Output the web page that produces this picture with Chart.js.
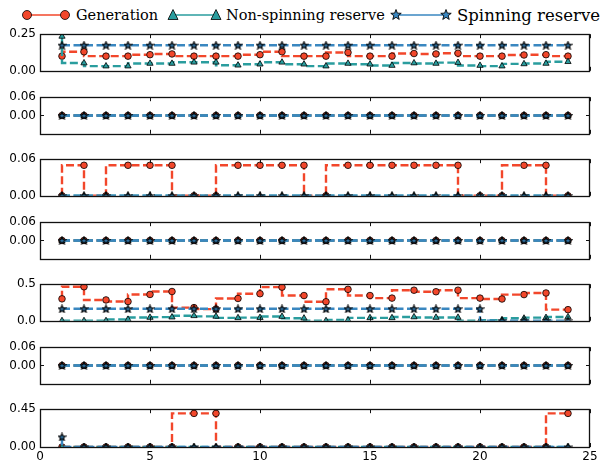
<!DOCTYPE html>
<html><head><meta charset="utf-8">
<script src="https://cdn.jsdelivr.net/npm/chart.js@4.4.0/dist/chart.umd.min.js"></script>
<style>
html,body{margin:0;padding:0;background:#fff;width:604px;height:462px;overflow:hidden;position:relative;}
canvas.sub{position:absolute;left:0;}
#lg{position:absolute;left:0;top:0;}
</style></head><body>
<svg id="lg" width="604" height="30" xmlns="http://www.w3.org/2000/svg">
  <line x1="27" y1="15" x2="65" y2="15" stroke="#f2472b" stroke-width="1.6"/>
  <circle cx="27" cy="15" r="4.5" fill="#f2472b" stroke="#000" stroke-width="0.8"/>
  <circle cx="65" cy="15" r="4.5" fill="#f2472b" stroke="#000" stroke-width="0.8"/>
  <text x="76" y="20" font-family="DejaVu Serif" font-size="14.5" fill="#000">Generation</text>
  <line x1="173" y1="15" x2="216" y2="15" stroke="#2a9d9e" stroke-width="1.6"/>
  <polygon points="173,9.5 168,19.5 178,19.5" fill="#2a9d9e" stroke="#000" stroke-width="0.8"/>
  <polygon points="216,9.5 211,19.5 221,19.5" fill="#2a9d9e" stroke="#000" stroke-width="0.8"/>
  <text x="226" y="20" font-family="DejaVu Serif" font-size="14.5" fill="#000">Non-spinning reserve</text>
  <line x1="396" y1="15" x2="446" y2="15" stroke="#3a87c0" stroke-width="1.6"/>
  <polygon id="st1" fill="#3a87c0" stroke="#000" stroke-width="0.9"/>
  <polygon id="st2" fill="#3a87c0" stroke="#000" stroke-width="0.9"/>
  <text x="457" y="21" font-family="DejaVu Serif" font-size="16.5" fill="#000">Spinning reserve</text>
</svg>
<script>
// ---------------- data ----------------
const hours = [1,2,3,4,5,6,7,8,9,10,11,12,13,14,15,16,17,18,19,20,21,22,23,24];

const gen1  = [0.10,0.13,0.10,0.10,0.11,0.115,0.10,0.10,0.10,0.11,0.13,0.10,0.10,0.125,0.10,0.10,0.118,0.115,0.12,0.10,0.10,0.108,0.11,0.10];
const non1  = [0.235,0.053,0.032,0.032,0.05,0.05,0.058,0.058,0.038,0.045,0.058,0.045,0.032,0.05,0.045,0.036,0.053,0.05,0.056,0.036,0.032,0.047,0.05,0.062];
const spin1 = [0.175,0.175,0.175,0.175,0.175,0.175,0.175,0.175,0.175,0.175,0.175,0.175,0.175,0.175,0.175,0.175,0.175,0.175,0.175,0.175,0.175,0.175,0.175,0.175];

const gen2  = [0,0,0,0,0,0,0,0,0,0,0,0,0,0,0,0,0,0,0,0,0,0,0,0];
const non2  = [0,0,0,0,0,0,0,0,0,0,0,0,0,0,0,0,0,0,0,0,0,0,0,0];
const spin2 = [0,0,0,0,0,0,0,0,0,0,0,0,0,0,0,0,0,0,0,0,0,0,0,0];

const gen3  = [0,0.05,0,0.05,0.05,0.05,0,0,0.05,0.05,0.05,0.05,0,0.05,0.05,0.05,0.05,0.05,0.05,0,0,0.05,0.05,0];
const non3  = [0,0,0,0,0,0,0,0,0,0,0,0,0,0,0,0,0,0,0,0,0,0,0,0];
const spin3 = [0,0,0,0,0,0,0,0,0,0,0,0,0,0,0,0,0,0,0,0,0,0,0,0];

const gen4  = [0,0,0,0,0,0,0,0,0,0,0,0,0,0,0,0,0,0,0,0,0,0,0,0];
const non4  = [0,0,0,0,0,0,0,0,0,0,0,0,0,0,0,0,0,0,0,0,0,0,0,0];
const spin4 = [0,0,0,0,0,0,0,0,0,0,0,0,0,0,0,0,0,0,0,0,0,0,0,0];

const gen5  = [0.30,0.465,0.285,0.263,0.36,0.40,0.18,0.16,0.305,0.37,0.46,0.345,0.26,0.43,0.345,0.31,0.418,0.397,0.418,0.31,0.298,0.358,0.38,0.152];
const non5  = [0,0,0,0.018,0.045,0.05,0.068,0.06,0.04,0.043,0.058,0.035,0,0.01,0.04,0.04,0.052,0.045,0.045,0,0.008,0.034,0.043,0.052];
const spin5 = [0.164,0.164,0.164,0.164,0.164,0.164,0.164,0.164,0.164,0.164,0.164,0.164,0.164,0.164,0.164,0.164,0.164,0.164,0.164,0.164,0,0,0,0];

const gen6  = [0,0,0,0,0,0,0,0,0,0,0,0,0,0,0,0,0,0,0,0,0,0,0,0];
const non6  = [0,0,0,0,0,0,0,0,0,0,0,0,0,0,0,0,0,0,0,0,0,0,0,0];
const spin6 = [0,0,0,0,0,0,0,0,0,0,0,0,0,0,0,0,0,0,0,0,0,0,0,0];

const gen7  = [0,0,0,0,0,0,0.40,0.40,0,0,0,0,0,0,0,0,0,0,0,0,0,0,0,0.40];
const non7  = [0,0,0,0,0,0,0,0,0,0,0,0,0,0,0,0,0,0,0,0,0,0,0,0];
const spin7 = [0.12,0,0,0,0,0,0,0,0,0,0,0,0,0,0,0,0,0,0,0,0,0,0,0];

const yMins   = [0,-0.06,0,-0.06,0,-0.06,0];
const yMaxs   = [0.25,0.06,0.06,0.06,0.5,0.06,0.45];
const yTicks  = [[0,0.25],[0,0.06],[0,0.06],[0,0.06],[0,0.5],[0,0.06],[0,0.45]];
const yDecimals = [2,2,2,2,1,2,2];
const xTicks  = [0,5,10,15,20,25];
const seriesNames = ['Generation','Non-spinning reserve','Spinning reserve'];

const panels = [
  [gen1,non1,spin1],[gen2,non2,spin2],[gen3,non3,spin3],[gen4,non4,spin4],
  [gen5,non5,spin5],[gen6,non6,spin6],[gen7,non7,spin7]
];

// ---------------- styles ----------------
const RED='#f2472b', TEAL='#2a9d9e', BLUE='#3a87c0';

function starPath(cx,cy,ro,ri){
  const pts=[];
  for(let k=0;k<10;k++){
    const r = k%2===0?ro:ri;
    const ang = -Math.PI/2 + k*Math.PI/5;
    pts.push([cx+r*Math.cos(ang), cy+r*Math.sin(ang)]);
  }
  return pts;
}
[['st1',396],['st2',446]].forEach(([id,cx])=>{
  document.getElementById(id).setAttribute('points', starPath(cx,15,5.5,2.3).map(p=>p.join(',')).join(' '));
});
const starImg = document.createElement('canvas');
starImg.width = 9; starImg.height = 9;
(function(){
  const c = starImg.getContext('2d');
  const p = starPath(4.5,4.9,3.9,1.7);
  c.beginPath(); p.forEach((q,i)=> i?c.lineTo(q[0],q[1]):c.moveTo(q[0],q[1])); c.closePath();
  c.fillStyle = '#2f6f9f'; c.fill();
  c.lineWidth = 1.1; c.strokeStyle = '#000'; c.stroke();
})();

const framePlugin = {
  id:'frame',
  afterDatasetsDraw(chart){
    const {ctx, chartArea:a, scales} = chart;
    const x = scales.x, y = scales.y;
    ctx.save();
    ctx.strokeStyle = '#111';
    ctx.lineWidth = 1;
    ctx.beginPath();
    x.ticks.forEach(t=>{
      const px = Math.round(x.getPixelForValue(t.value))+0.5;
      ctx.moveTo(px,a.top); ctx.lineTo(px,a.top+4);
      ctx.moveTo(px,a.bottom); ctx.lineTo(px,a.bottom-4);
    });
    y.ticks.forEach(t=>{
      const py = Math.round(y.getPixelForValue(t.value))+0.5;
      ctx.moveTo(a.left,py); ctx.lineTo(a.left+4,py);
      ctx.moveTo(a.right,py); ctx.lineTo(a.right-4,py);
    });
    ctx.stroke();
    ctx.lineWidth = 1.3;
    ctx.strokeRect(Math.round(a.left)+0.5, Math.round(a.top)+0.5, Math.round(a.right-a.left)-1, Math.round(a.bottom-a.top));
    ctx.restore();
  }
};

const canvasTops = [23,86,148,211,273,336,398];
const areaH = 39;

panels.forEach((series,i)=>{
  const last = (i === panels.length-1);
  const cv = document.createElement('canvas');
  cv.className = 'sub';
  const h = 10 + areaH + (last ? 18 : 10);
  cv.width = 604; cv.height = h;
  cv.style.width='604px'; cv.style.height=h+'px';
  cv.style.top = canvasTops[i]+'px';
  document.body.appendChild(cv);

  const mk = (arr)=> hours.map((hx,k)=>({x:hx, y:arr[k]}));
  const common = {
    borderWidth:2.4, borderDash:[8,3.5], stepped:'after', fill:false,
    pointBorderColor:'#000', pointBorderWidth:0.8, clip:0, tension:0
  };
  new Chart(cv, {
    type:'line',
    data:{ datasets:[
      Object.assign({}, common, {label:seriesNames[0], data:mk(series[0]), borderColor:RED, pointBackgroundColor:RED, pointStyle:'circle', pointRadius:3.3, order:2}),
      Object.assign({}, common, {label:seriesNames[1], data:mk(series[1]), borderColor:TEAL, pointBackgroundColor:TEAL, pointStyle:'triangle', pointRadius:3.6, order:1}),
      Object.assign({}, common, {label:seriesNames[2], data:mk(series[2]), borderColor:BLUE, pointBackgroundColor:BLUE, pointStyle:starImg, pointRadius:4, order:0})
    ]},
    options:{
      responsive:false, animation:false, devicePixelRatio:1,
      layout:{padding:{top:10,right:14,left:0,bottom:last?0:10}},
      plugins:{legend:{display:false}, tooltip:{enabled:false}},
      events:[],
      scales:{
        x:{ type:'linear', min:0, max:25,
            grid:{display:false, drawTicks:false}, border:{display:false},
            afterBuildTicks:(s)=>{ s.ticks = xTicks.map(v=>({value:v})); },
            ticks:{ display:last, color:'#000', padding:3, maxRotation:0,
                    font:{family:'DejaVu Sans', size:12}, callback:(v)=>String(v) },
            afterFit:(s)=>{ s.height = last ? 18 : 0; } },
        y:{ type:'linear', min:yMins[i], max:yMaxs[i],
            grid:{display:false, drawTicks:false}, border:{display:false},
            afterBuildTicks:(s)=>{ s.ticks = yTicks[i].map(v=>({value:v})); },
            ticks:{ color:'#000', padding:4, font:{family:'DejaVu Sans', size:12},
                    callback:(v)=> Number(v).toFixed(yDecimals[i]) },
            afterFit:(s)=>{ s.width = 40; } }
      }
    },
    plugins:[framePlugin]
  });
});
</script>
</body></html>
